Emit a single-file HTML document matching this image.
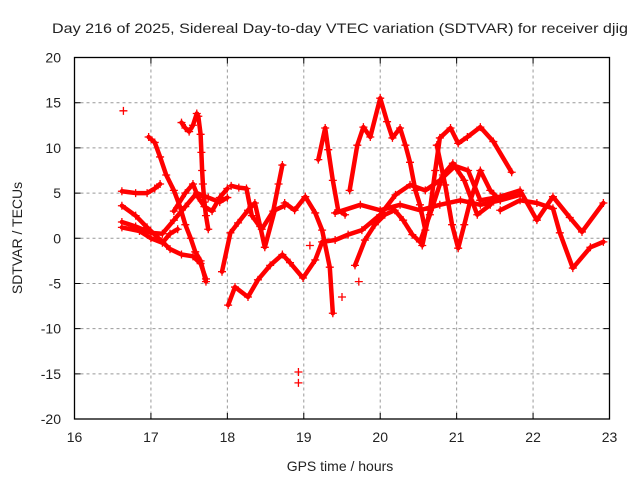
<!DOCTYPE html>
<html><head><meta charset="utf-8"><style>
html,body{margin:0;padding:0;background:#fff}
svg{display:block}
text{font-family:"Liberation Sans",sans-serif;fill:#222}
</style></head><body>
<svg id="chart" width="640" height="480" viewBox="0 0 640 480">
<text x="340" y="33" font-size="14" text-anchor="middle" textLength="576" lengthAdjust="spacingAndGlyphs">Day 216 of 2025, Sidereal Day-to-day VTEC variation (SDTVAR) for receiver djig</text>
<g id="grid"></g>
<g id="series"></g>
<rect x="74.5" y="57.5" width="535" height="361.5" fill="none" stroke="#000" stroke-width="1.3"/>
<g id="ticks"></g>
<text x="340" y="471" font-size="14" text-anchor="middle">GPS time / hours</text>
<text x="22" y="238" font-size="14" text-anchor="middle" transform="rotate(-90 22 238)">SDTVAR / TECUs</text>
</svg>
<script>
const xTicks=[16,17,18,19,20,21,22,23];
const yTicks=[20,15,10,5,0,-5,-10,-15,-20];
const trackIso1=[[16.64,14.1]];
const trackIso2=[[18.93,-14.8],[18.93,-16.0]];
const track3=[[16.62,5.2],[16.8,5.0],[16.95,5.0],[17.05,5.5],[17.12,6.0]];
const track4=[[16.97,11.2],[17.05,10.6],[17.12,9.0],[17.2,7.0],[17.3,5.3],[17.38,3.5],[17.45,1.5],[17.52,0.0],[17.58,-1.5],[17.65,-2.5],[17.72,-4.8]];
const track5=[[16.62,3.6],[16.8,2.5],[16.95,1.2],[17.1,0.0],[17.25,-1.2],[17.4,-1.8],[17.55,-2.0],[17.65,-2.8],[17.72,-4.5]];
const track6=[[16.62,1.8],[16.8,1.3],[17.0,0.6],[17.15,0.5],[17.3,2.0],[17.45,3.5],[17.6,5.0],[17.75,4.5],[17.9,4.0],[18.0,4.5]];
const track7=[[16.62,1.2],[16.85,0.8],[17.0,0.0],[17.15,-0.5],[17.25,0.5],[17.35,1.0]];
const track8=[[17.4,12.8],[17.45,12.2],[17.5,11.8],[17.55,12.5],[17.6,13.8],[17.62,13.5],[17.65,11.5],[17.66,9.5],[17.67,7.5],[17.68,6.0],[17.7,4.0],[17.72,2.5],[17.75,1.0]];
const track9=[[17.3,3.0],[17.45,5.0],[17.55,6.0],[17.62,4.5],[17.7,3.5],[17.8,3.0],[17.9,4.5],[18.0,5.5]];
const trackG=[[18.05,5.8],[18.15,5.6],[18.25,5.5],[18.32,2.5],[18.45,1.0],[18.6,3.0],[18.67,6.0],[18.72,8.1]];
const trackF=[[18.01,-7.4],[18.1,-5.4],[18.27,-6.5],[18.4,-4.6],[18.56,-3.0],[18.72,-1.8],[18.82,-2.7],[18.99,-4.4],[19.15,-2.4],[19.24,-0.4],[19.41,-0.2],[19.58,0.4],[19.76,0.9],[20.0,2.6],[20.2,4.8],[20.39,5.9],[20.59,5.3],[20.78,6.4],[20.98,8.0],[21.15,7.5],[21.31,4.2]];
const trackH=[[18.75,3.9],[18.88,3.1],[19.02,4.6],[19.15,2.8],[19.24,0.9],[19.34,-3.2],[19.38,-8.3]];
const trackI=[[17.93,-3.7],[18.04,0.6],[18.14,1.7],[18.27,3.1],[18.36,3.9],[18.43,1.3],[18.49,-1.0],[18.62,3.1],[18.75,3.6]];
const trackSpike=[[19.19,8.7],[19.28,12.2],[19.32,9.8],[19.38,6.4],[19.45,3.1],[19.54,2.6]];
const trackJ=[[19.6,5.3],[19.7,10.3],[19.78,12.3],[19.87,11.2],[20.0,15.5],[20.09,12.9],[20.16,11.1],[20.26,12.2],[20.33,10.3],[20.39,8.4],[20.46,5.3],[20.52,3.7],[20.59,0.9]];
const trackK=[[20.55,-0.8],[20.65,3.1],[20.72,7.5],[20.78,11.1],[20.92,12.2],[21.02,10.5],[21.14,11.2],[21.31,12.3],[21.48,10.7],[21.72,7.3]];
const trackL2=[[20.52,-0.4],[20.65,2.6],[20.82,7.0],[20.95,8.3],[21.1,6.4],[21.27,2.6],[21.44,3.7]];
const trackL3=[[20.74,10.3],[20.85,5.9],[20.94,1.5],[21.02,-1.1],[21.1,1.5],[21.18,4.2],[21.31,7.5],[21.44,5.3],[21.57,4.2]];
const trackL4=[[19.67,-3.0],[19.8,-0.2],[19.93,1.5],[20.06,2.6],[20.19,3.1],[20.3,2.0],[20.42,0.4],[20.52,-0.4]];
const trackBand=[[19.41,2.8],[19.74,3.7],[20.0,3.1],[20.26,3.7],[20.52,3.1],[20.78,3.7],[21.05,4.2],[21.31,3.7],[21.57,4.2],[21.83,4.8]];
const trackM=[[21.31,4.2],[21.57,4.6],[21.83,5.3],[22.05,2.0],[22.26,4.6],[22.48,2.3],[22.64,0.7],[22.92,3.9]];
const trackN=[[21.57,3.1],[21.83,4.2],[22.05,3.9],[22.26,3.3],[22.35,0.6],[22.52,-3.3],[22.75,-1.0],[22.92,-0.4]];
const trackMisc=[[19.72,-4.8],[19.08,-0.8],[19.5,-6.5]];
const lineTracks=[track3,track4,track5,track6,track7,track8,track9,trackG,trackF,trackH,trackI,trackSpike,trackJ,trackK,trackL2,trackL3,trackL4,trackBand,trackM,trackN];
const pointTracks=[trackIso1,trackIso2,trackMisc];

const X0=74.5,X1=609.5,Y0=57.5,Y1=419;
const xs=h=>X0+(h-16)/7*(X1-X0);
const ys=v=>Y0+(20-v)/40*(Y1-Y0);
const NS='http://www.w3.org/2000/svg';
const grid=document.getElementById('grid'),ticks=document.getElementById('ticks'),ser=document.getElementById('series');
function mk(tag,attrs,parent){const e=document.createElementNS(NS,tag);for(const k in attrs)e.setAttribute(k,attrs[k]);parent.appendChild(e);return e;}
xTicks.forEach(t=>{
  const x=xs(t);
  if(t>16&&t<23){const g=mk('line',{x1:x,x2:x,y1:Y0,y2:Y1,stroke:'#999','stroke-dasharray':'3,3'},grid);
  
  }
  const tk=mk('path',{d:`M${x},${Y1}v-6M${x},${Y0}v6`,stroke:'#000'},ticks);
  
  
  const lb=mk('text',{x:x,y:442,'font-size':14,'text-anchor':'middle'},ticks);lb.textContent=t;
  
  
});
yTicks.forEach(t=>{
  const y=ys(t);
  if(t<20&&t>-20){const g=mk('line',{x1:X0,x2:X1,y1:y,y2:y,stroke:'#999','stroke-dasharray':'3,3'},grid);
  
  }
  const tk=mk('path',{d:`M${X0},${y}h6M${X1},${y}h-6`,stroke:'#000'},ticks);
  
  
  const lb=mk('text',{x:61,y:y+5,'font-size':14,'text-anchor':'end'},ticks);lb.textContent=t;
  
  
});
function drawPoints(tr){
  tr.forEach(p=>{
    const x=xs(p[0]),y=ys(p[1]);
    const m=mk('path',{d:`M${x-4},${y}h8M${x},${y-4}v8`,stroke:'#f00','stroke-width':1.3},ser);
    
    
  });
}
lineTracks.forEach(tr=>{
  const pl=mk('polyline',{points:tr.map(p=>xs(p[0])+','+ys(p[1])).join(' '),fill:'none',stroke:'#f00','stroke-width':4.5,'stroke-linejoin':'round','stroke-linecap':'round'},ser);
  
  
  drawPoints(tr);
});
pointTracks.forEach(drawPoints);
</script>
</body></html>
